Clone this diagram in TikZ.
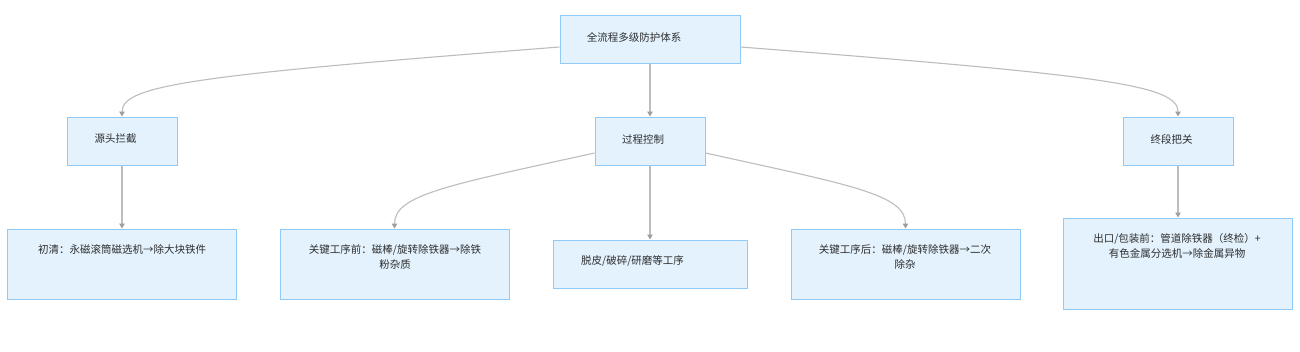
\documentclass[tikz,border=0pt]{standalone}
\usepackage{fontspec}
\setmainfont{Noto Sans CJK SC}
\usetikzlibrary{arrows.meta}
\definecolor{boxfill}{HTML}{E3F2FD}
\definecolor{boxline}{HTML}{90CAF9}
\definecolor{edgecol}{HTML}{BDBDBD}
\definecolor{tipcol}{HTML}{9E9E9E}
\definecolor{txtcol}{HTML}{2E2E2E}
\tikzset{
  box/.style={draw=boxline, fill=boxfill, line width=1pt, inner sep=0pt, rectangle},
  lbl/.style={text=txtcol, font=\fontsize{10.5pt}{15pt}\selectfont, inner sep=0pt, align=center},
  edge/.style={draw=edgecol, line width=1.1pt, -{Triangle[width=5.5pt,length=5pt,color=tipcol]}},
}
\begin{document}
\begin{tikzpicture}[x=1pt,y=-1pt]
\useasboundingbox[fill=white] (0,0) rectangle (1300,351);
% boxes
\node[box, minimum width=180pt, minimum height=48pt] (root) at (650,39) {};
\node[box, minimum width=110pt, minimum height=48pt] (src) at (122,141) {};
\node[box, minimum width=110pt, minimum height=48pt] (proc) at (650,141) {};
\node[box, minimum width=110pt, minimum height=48pt] (fin) at (1178,141) {};
\node[box, minimum width=229pt, minimum height=70pt] (c1) at (122,264) {};
\node[box, minimum width=229pt, minimum height=70pt] (c2) at (394.5,264) {};
\node[box, minimum width=194pt, minimum height=48pt] (c3) at (650,264) {};
\node[box, minimum width=229pt, minimum height=70pt] (c4) at (905.5,264) {};
\node[box, minimum width=229pt, minimum height=91pt] (c5) at (1178,263.5) {};
% labels
\node[lbl] (troot) at (634,37) {全流程多级防护体系};
\node[lbl] (tsrc) at (115.5,139) {源头拦截};
\node[lbl] (tproc) at (643,139) {过程控制};
\node[lbl] (tfin) at (1171.5,139) {终段把关};
\node[lbl, anchor=north] (tc1) at (122,244) {初清：永磁滚筒磁选机→除大块铁件};
\node[lbl, anchor=north] (tc2) at (395,244) {关键工序前：磁棒/旋转除铁器→除铁\\粉杂质};
\node[lbl] (tc3) at (632.5,261) {脱皮/破碎/研磨等工序};
\node[lbl, anchor=north] (tc4) at (905,244) {关键工序后：磁棒/旋转除铁器→二次\\除杂};
\node[lbl, anchor=north] (tc5) at (1177,233) {出口/包装前：管道除铁器（终检）+\\有色金属分选机→除金属异物};
% edges
\draw[edge] ([yshift=-8pt]root.west) .. controls +(-360,28) and +(0,-32) .. (src.north);
\draw[edge] (root.south) -- (proc.north);
\draw[edge] ([yshift=-8pt]root.east) .. controls +(360,28) and +(0,-32) .. (fin.north);
\draw[edge] (src.south) -- (c1.north);
\draw[edge] ([yshift=-12pt]proc.west) .. controls +(-145,32) and +(0,-34) .. (c2.north);
\draw[edge] (proc.south) -- (c3.north);
\draw[edge] ([yshift=-12pt]proc.east) .. controls +(145,32) and +(0,-34) .. (c4.north);
\draw[edge] (fin.south) -- (c5.north);
\end{tikzpicture}
\end{document}
